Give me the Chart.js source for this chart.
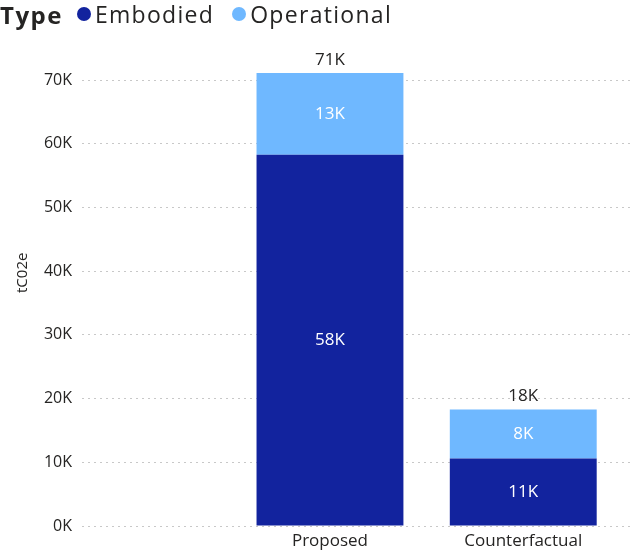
<!DOCTYPE html>
<html>
<head>
<meta charset="utf-8">
<script src="https://cdn.jsdelivr.net/npm/chart.js"></script>
<style>
  html, body { margin: 0; padding: 0; background: #fff; }
  #wrap { position: relative; width: 641px; height: 556px; }
  #legend {
    position: absolute; left: 0; top: 0; height: 28px;
    font-family: "Open Sans", sans-serif; font-size: 23px; color: #252423;
    display: flex; align-items: center; white-space: nowrap; letter-spacing: 1.3px;
  }
  #legend b { font-weight: 700; font-size: 24px; margin-right: 14px; letter-spacing: 1.5px; }
  #legend .dot { display: inline-block; width: 14px; height: 14px; border-radius: 50%; margin-right: 4px; }
  #legend .item { display: inline-flex; align-items: center; margin-right: 18px; }
</style>
</head>
<body>
<div id="wrap">
  <canvas id="chart" width="641" height="556"></canvas>
  <div id="legend"></div>
</div>
<script>
// --- data ---
const categories = ["Proposed", "Counterfactual"];
const embodied = [58300, 10600];
const operational = [12800, 7700];
const yTicks = [0, 10000, 20000, 30000, 40000, 50000, 60000, 70000];

const seriesNames = ["Embodied", "Operational"];
const seriesColors = ["#12239E", "#6FB8FF"];
const fontFamily = "'Open Sans', sans-serif";

function fmtK(v) {
  return Math.round(v / 1000) + "K";
}

// legend (HTML, so the bold "Type" can sit inline)
const legendEl = document.getElementById("legend");
legendEl.innerHTML = "<b>Type</b>" + seriesNames.map((n, i) =>
  `<span class="item"><span class="dot" style="background:${seriesColors[i]}"></span>${n}</span>`
).join("");

// labels inside segments and totals on top
const barLabels = {
  id: "barLabels",
  afterDatasetsDraw(chart) {
    const ctx = chart.ctx;
    ctx.save();
    ctx.font = "17px " + fontFamily;
    ctx.textAlign = "center";
    ctx.textBaseline = "middle";
    chart.data.datasets.forEach((ds, di) => {
      const meta = chart.getDatasetMeta(di);
      meta.data.forEach((bar, i) => {
        ctx.fillStyle = "#ffffff";
        ctx.fillText(fmtK(ds.data[i].y), bar.x, (bar.y + bar.base) / 2);
      });
    });
    const topMeta = chart.getDatasetMeta(chart.data.datasets.length - 1);
    topMeta.data.forEach((bar, i) => {
      ctx.fillStyle = "#252423";
      ctx.fillText(fmtK(embodied[i] + operational[i]), bar.x, bar.y - 13);
    });
    ctx.restore();
  }
};

new Chart(document.getElementById("chart"), {
  type: "bar",
  data: {
    datasets: [
      {
        label: seriesNames[0],
        data: embodied.map((v, i) => ({ x: i, y: v })),
        backgroundColor: seriesColors[0],
      },
      {
        label: seriesNames[1],
        data: operational.map((v, i) => ({ x: i, y: v })),
        backgroundColor: seriesColors[1],
      },
    ],
  },
  options: {
    responsive: false,
    animation: false,
    layout: { padding: { top: 7, right: 7, left: 0, bottom: 0 } },
    datasets: { bar: { categoryPercentage: 1, barPercentage: 0.76 } },
    plugins: { legend: { display: false }, tooltip: { enabled: false } },
    scales: {
      x: {
        type: "linear",
        stacked: true,
        offset: false,
        min: -1.283,
        max: 1.573,
        grid: { display: false, offset: false, drawTicks: false },
        border: { display: false },
        afterBuildTicks: (axis) => { axis.ticks = categories.map((_, i) => ({ value: i })); },
        afterFit: (axis) => { axis.height = 30; },
        ticks: {
          padding: 5,
          color: "#252423",
          font: { family: fontFamily, size: 17 },
          callback: (v) => categories[v] ?? "",
        },
      },
      y: {
        stacked: true,
        min: 0,
        max: 79500,
        afterBuildTicks: (axis) => { axis.ticks = yTicks.map((v) => ({ value: v })); },
        afterFit: (axis) => { axis.width = 82; },
        border: { display: false, dash: [2, 4] },
        grid: {
          color: "#c8c8c8",
          lineWidth: 1,
          drawTicks: false,
        },
        ticks: {
          padding: 10,
          color: "#252423",
          font: { family: fontFamily, size: 16 },
          callback: (v) => fmtK(v),
        },
        title: {
          display: true,
          text: "tC02e",
          color: "#252423",
          font: { family: fontFamily, size: 15 },
          padding: { top: 14, bottom: 0 },
        },
      },
    },
  },
  plugins: [barLabels],
});
</script>
</body>
</html>
